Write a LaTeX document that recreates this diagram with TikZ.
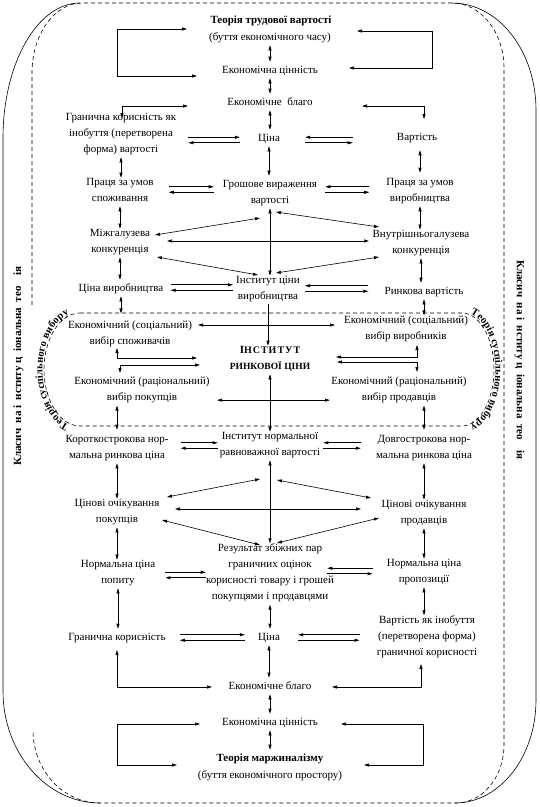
\documentclass[tikz,border=0pt]{standalone}
\usepackage{fontspec}
\setmainfont{Liberation Serif}
\usetikzlibrary{arrows.meta,decorations.text,calc}
\tikzset{
  lbl/.style={font=\fontsize{11}{16}\selectfont, inner sep=0pt, align=center, execute at begin node=\strut, execute at end node=\strut},
  ttl/.style={lbl, font=\fontsize{11}{16}\selectfont\bfseries},
  arr/.style={-{Triangle[length=5pt,width=3pt]}},
  dbl/.style={{Triangle[length=5pt,width=3pt]}-{Triangle[length=5pt,width=3pt]}},
  dsh/.style={dash pattern=on 4pt off 3pt},
  arctext/.style={decorate,decoration={text along path,text align=center,raise=1.5pt,
     text={|\fontsize{10.5}{12}\selectfont\bfseries|Теорія суспільного вибору}}},
}
\newcommand\pairL[5]{%
  \draw[arr] ($(#1.east)+(#3,#5-2.75)$) -- ($(#1.east -| #2.west)+(#4,#5-2.75)$);
  \draw[arr] ($(#1.east -| #2.west)+(#4,#5+2.75)$) -- ($(#1.east)+(#3,#5+2.75)$);}
\newcommand\pairR[5]{%
  \draw[arr] ($(#1.east -| #2.west)+(#4,#5-2.75)$) -- ($(#1.east)+(#3,#5-2.75)$);
  \draw[arr] ($(#1.east)+(#3,#5+2.75)$) -- ($(#1.east -| #2.west)+(#4,#5+2.75)$);}
\begin{document}
\begin{tikzpicture}[x=1pt,y=-1pt,line width=0.6pt]
\useasboundingbox (0,0) rectangle (539,807);
% frames
\draw (80,3) arc[start angle=270, end angle=180, x radius=77, y radius=135] -- (3,691) arc[start angle=180, end angle=90, x radius=97, y radius=112];
\draw (452,3) arc[start angle=270, end angle=360, x radius=84, y radius=107] -- (536,700) arc[start angle=0, end angle=90, x radius=81, y radius=103];
\draw[dsh] (32,305) -- (32,73) arc[start angle=180, end angle=270, x radius=50, y radius=70] -- (452,3) arc[start angle=270,end angle=360,x radius=52,y radius=65] -- (504,745) arc[start angle=0,end angle=90,x radius=48,y radius=58] -- (100,803) arc[start angle=90,end angle=180, x radius=67, y radius=73];
% social choice region
\draw[dsh] (80,313) -- (462,313) arc[start angle=270,end angle=450,x radius=32,y radius=56.5] -- (80,426) arc[start angle=90,end angle=270,x radius=36,y radius=56.5];
\path[arctext] (80,426) arc[start angle=90,end angle=270,x radius=36,y radius=56.5];
\path[arctext] (462,313) arc[start angle=270,end angle=450,x radius=32,y radius=56.5];
% side titles
\node[ttl, rotate=90] (sideL) at (18,366) {Класич\enspace на і\enspace нститу ц\enspace іональна\enspace тео\quad ія};
\node[ttl, rotate=-90] (sideR) at (520,360) {Класич\enspace на і\enspace нститу ц\enspace іональна\enspace тео\quad ія};
% nodes
\node[ttl] (t1a) at (271,20) {Теорія трудової вартості};
\node[lbl] (t1b) at (270,37) {(буття економічного часу)};
\node[lbl] (n2) at (270,70) {Економічна цінність};
\node[lbl] (n3) at (270,102) {Економічне\ \ благо};
\node[lbl] (n4) at (121,135) {Гранична корисність як\\інобуття (перетворена\\форма) вартості};
\node[lbl] (n5) at (269,138) {Ціна};
\node[lbl] (n6) at (417,137) {Вартість};
\node[lbl] (n7) at (120,192) {Праця за умов\\споживання};
\node[lbl] (n8) at (270,194) {Грошове вираження\\вартості};
\node[lbl] (n9) at (420,192) {Праця за умов\\виробництва};
\node[lbl] (n10) at (120,243) {Міжгалузева\\конкуренція};
\node[lbl] (n11) at (421,244) {Внутрішньогалузева\\конкуренція};
\node[lbl] (n12) at (121,288) {Ціна виробництва};
\node[lbl] (n13) at (268,290) {Інститут ціни\\виробництва};
\node[lbl] (n14) at (424,291) {Ринкова вартість};
\node[lbl] (n15) at (130,335) {Економічний (соціальний)\\вибір споживачів};
\node[lbl] (n16) at (406,330) {Економічний (соціальний)\\вибір виробників};
\node[ttl] (n17) at (270,360) {{\addfontfeature{LetterSpace=10}І{\fontsize{10}{16}\selectfont НСТИТУТ}}\\{\fontsize{9.5}{16}\selectfont РИНКОВОЇ ЦІНИ}};
\node[lbl] (n18) at (142,391) {Економічний (раціональний)\\вибір покупців};
\node[lbl] (n19) at (399,391) {Економічний (раціональний)\\вибір продавців};
\node[lbl] (n20) at (117,449) {Короткострокова нор-\\мальна ринкова ціна};
\node[lbl] (n21) at (270,446) {Інститут нормальної\\равноважної вартості};
\node[lbl] (n22) at (424,449) {Довгострокова нор-\\мальна ринкова ціна};
\node[lbl] (n23) at (117,513) {Цінові очікування\\покупців};
\node[lbl] (n24) at (424,514) {Цінові очікування\\продавців};
\node[lbl] (n25) at (270,574) {Результат збіжних пар\\граничних оцінок\\корисності товару і грошей\\покупцями і продавцями};
\node[lbl] (n26) at (118,574) {Нормальна ціна\\попиту};
\node[lbl] (n27) at (424,573) {Нормальна ціна\\пропозиції};
\node[lbl] (n28) at (117,637) {Гранична корисність};
\node[lbl] (n29) at (269,637) {Ціна};
\node[lbl] (n30) at (427,638) {Вартість як інобуття\\(перетворена форма)\\граничної корисності};
\node[lbl] (n31) at (270,686) {Економічне благо};
\node[lbl] (n32) at (270,722) {Економічна цінність};
\node[ttl] (n33) at (270,758) {Теорія маржиналізму};
\node[lbl] (n34) at (270,775) {(буття економічного простору)};
% vertical arrows
\draw[dbl] (t1b.south) -- (t1b.south |- n2.north);
\draw[dbl] (n2.south) -- (n2.south |- n3.north);
\draw[dbl] (n3.south) -- (n3.south |- n5.north);
\draw[dbl] (n4.south) -- (n4.south |- n7.north);
\draw[dbl, shorten >=4pt] (n5.south) -- (n5.south |- n8.north);
\draw[dbl, shorten >=5pt, shorten <=5pt] (n9.north) -- (n9.north |- n6.south);
\draw[dbl] (n7.south) -- (n7.south |- n10.north);
\draw[dbl] (n9.south) -- (n9.south |- n11.north);
\draw[dbl] (n10.south) -- (n10.south |- n12.north);
\draw[dbl] (n11.south) -- (n11.south |- n14.north);
\draw[dbl, shorten >=7pt] (n12.south) -- (n12.south |- n15.north);
\draw[dbl] (n14.south) -- (n14.south |- n16.north);
\draw[dbl, shorten <=5pt] (n20.north) -- (n20.north |- n18.south);
\draw[dbl, shorten <=5pt] (n22.north) -- (n22.north |- n19.south);
\draw[dbl] (n20.south) -- (n20.south |- n23.north);
\draw[dbl] (n22.south) -- (n22.south |- n24.north);
\draw[dbl] (n23.south) -- (n23.south |- n26.north);
\draw[dbl] (n24.south) -- (n24.south |- n27.north);
\draw[dbl] (n26.south) -- (n26.south |- n28.north);
\draw[dbl] (n27.south) -- (n27.south |- n30.north);
\draw[dbl] (n25.south) -- (n25.south |- n29.north);
\draw[dbl] (n29.south) -- (n29.south |- n31.north);
\draw[dbl] (n31.south) -- (n31.south |- n32.north);
\draw[dbl] (n32.south) -- (n32.south |- n33.north);
% central column
\draw[dbl] (n8.south) -- (n8.south |- n13.north);
\draw[arr] (n13.south) -- (n13.south |- n17.north);
\coordinate (m1) at ($(n13.south)!.5!(n17.north)$);
\draw[arr] (m1) -- ++(-71,0);
\draw[arr] (m1) -- ++(66,0);
\draw[dbl] (n17.south) -- (n17.south |- n21.north);
\coordinate (m2) at ($(n17.south)!.45!(n21.north)$);
\draw[arr] (m2) -- ++(-53,0);
\draw[arr] (m2) -- ++(60,0);
\draw[dbl] (n21.south) -- (n21.south |- n25.north);
% star 1
\draw[dbl] (155,235) -- (260,218);
\draw[dbl] (276,212) -- (379,227);
\draw[dbl] (167,241) -- (369,241);
\draw[dbl] (157,257) -- (258,275);
\draw[dbl] (276,273) -- (379,257);
% star 2
\draw[dbl] (167,497) -- (260,479);
\draw[dbl] (277,480) -- (371,498);
\draw[dbl] (175,509) -- (361,509);
\draw[dbl] (162,520) -- (260,545);
\draw[dbl] (277,543) -- (379,518);
% pairs
\pairL{n4}{n5}{12}{-18}{5}
\pairR{n5}{n6}{25}{-44}{2}
\pairL{n7}{n8}{15}{-9}{-2.5}
\pairR{n8}{n9}{8}{-17}{-4.5}
\pairL{n12}{n13}{7}{-3}{-0.5}
\pairR{n13}{n14}{5}{-16}{-1.5}
\pairL{n20}{n21}{12}{-2}{-3.5}
\pairR{n21}{n22}{3}{-15}{-0.5}
\pairL{n26}{n25}{10}{0}{1}
\pairR{n25}{n27}{-7}{-14}{-3}
\pairL{n28}{n29}{14}{-13}{0.5}
\pairR{n29}{n30}{18}{-17}{0.5}
% loops and brackets
\draw[dbl] (187,29) -- (117,29) -- (117,76) -- (197,76);
\draw[dbl] (357,31) -- (432,31) -- (432,68) -- (349,68);
\draw[dbl] (122,118) -- (122,106) -- (188,106);
\draw[dbl] (362,106) -- (424,106) -- (424,119);
\draw[dbl] (117,348) -- (117,358) -- (197,358);
\draw[dbl] (120,373) -- (120,365) -- (200,365);
\draw[dbl] (336,357) -- (417,357) -- (417,345);
\draw[dbl] (337,362) -- (417,362) -- (417,372);
\draw[dbl] (117,650) -- (117,687) -- (212,687);
\draw[dbl] (421,664) -- (421,687) -- (332,687);
\draw[dbl] (200,724) -- (117,724) -- (117,765) -- (177,765);
\draw[dbl] (341,724) -- (423,724) -- (423,765) -- (364,765);
\end{tikzpicture}
\end{document}
